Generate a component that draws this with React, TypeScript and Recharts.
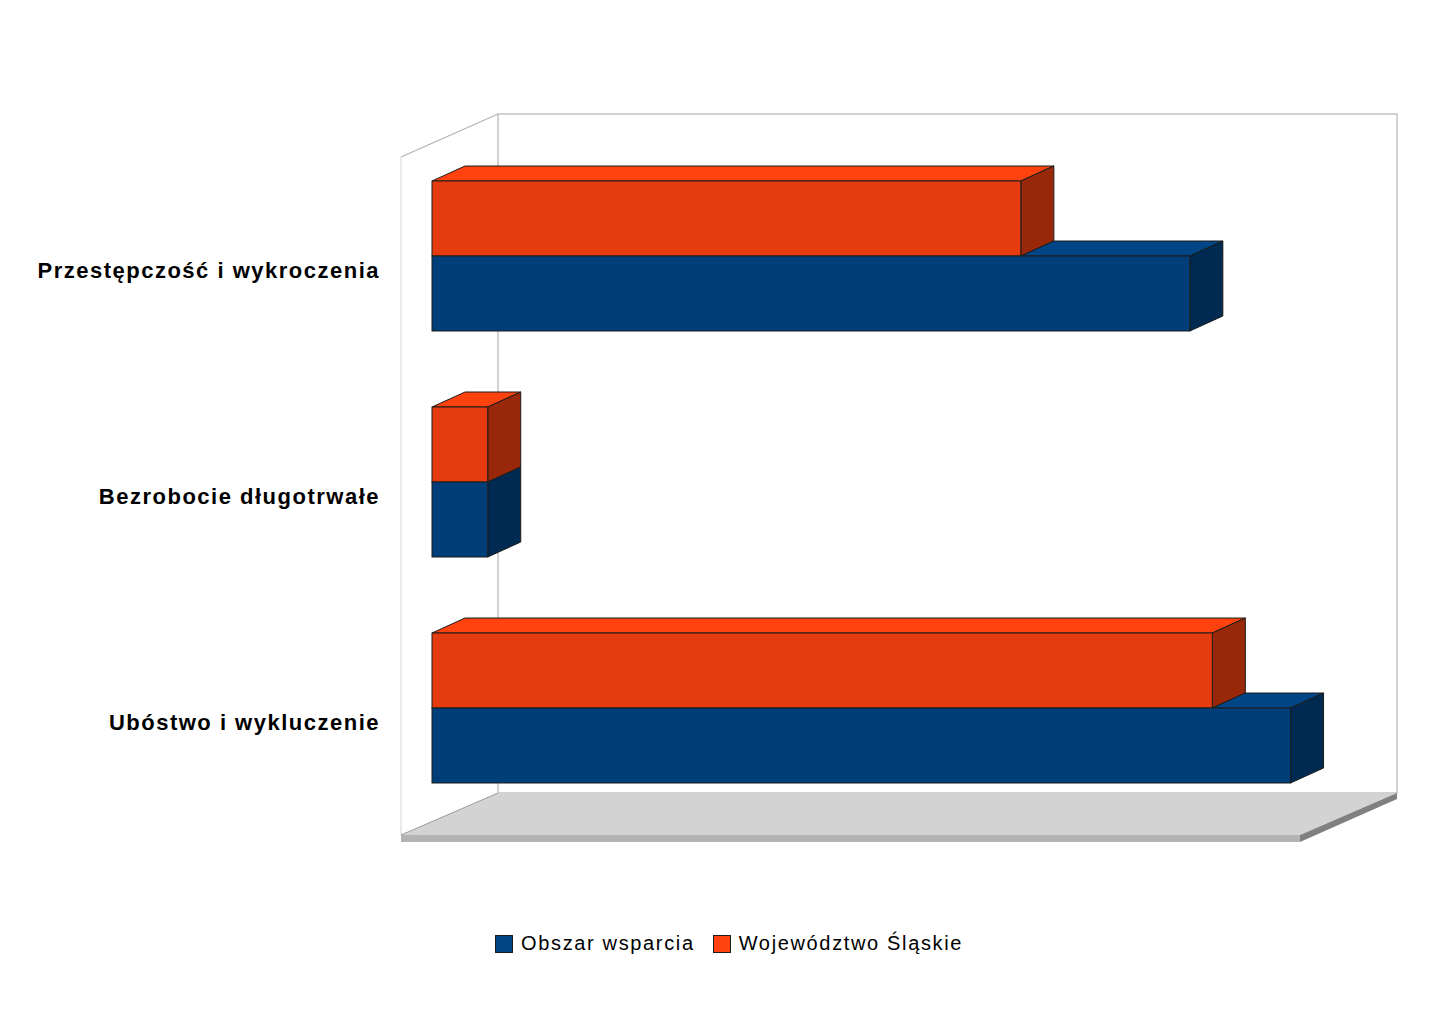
import React from 'react';
import { BarChart, Bar, XAxis, YAxis, Legend } from 'recharts';

const categories = ['Przestępczość i wykroczenia', 'Bezrobocie długotrwałe', 'Ubóstwo i wykluczenie'];
const obszarWsparcia = [84.3, 6.2, 95.5];
const wojewodztwoSlaskie = [65.5, 6.2, 86.8];
const seriesNames = ['Obszar wsparcia', 'Województwo Śląskie'];

const data = categories.map((name, i) => ({
  name,
  obszar: obszarWsparcia[i],
  slaskie: wojewodztwoSlaskie[i],
}));

const DX = 33;
const DY = 15;
const STROKE = '#1c1c1c';

const BLUE = { front: '#003E79', top: '#004586', side: '#002A52' };
const ORANGE = { front: '#E53B0F', top: '#FF420E', side: '#99280A' };

function boxPath(pts: number[][]) {
  return pts.map((p, i) => `${i ? 'L' : 'M'}${p[0]},${p[1]}`).join(' ') + ' Z';
}

function Box(props: any) {
  const { x, y, width, height, colors, topStart } = props;
  const w = Math.max(width, 0);
  const ts = topStart == null ? 0 : Math.min(topStart, w);
  return (
    <g>
      {ts < w && (
        <path
          d={boxPath([[x + ts, y], [x + ts + DX, y - DY], [x + w + DX, y - DY], [x + w, y]])}
          fill={colors.top}
          stroke={STROKE}
          strokeWidth={1}
          strokeLinejoin="round"
        />
      )}
      <path
        d={boxPath([[x + w, y], [x + w + DX, y - DY], [x + w + DX, y + height - DY], [x + w, y + height]])}
        fill={colors.side}
        stroke={STROKE}
        strokeWidth={1}
        strokeLinejoin="round"
      />
      <rect x={x} y={y} width={w} height={height} fill={colors.front} stroke={STROKE} strokeWidth={1} />
    </g>
  );
}

const OrangeShape = (props: any) => <Box {...props} colors={ORANGE} topStart={0} />;

const BlueShape = (props: any) => {
  const { width, payload } = props;
  const ratio = payload && payload.obszar ? payload.slaskie / payload.obszar : 0;
  return <Box {...props} colors={BLUE} topStart={width * ratio} />;
};

const YTick = (props: any) => {
  const { y, payload } = props;
  return (
    <text
      x={380}
      y={y + 22}
      textAnchor="end"
      fontFamily="'Liberation Sans', Arial, sans-serif"
      fontWeight="bold"
      fontSize={22}
      letterSpacing={1.5}
      fill="#000"
    >
      {payload.value}
    </text>
  );
};

const legendItems = [
  { name: seriesNames[0], color: BLUE.top },
  { name: seriesNames[1], color: ORANGE.top },
];

const LegendContent = () => (
  <div style={{ position: 'relative', height: 0 }}>
    <div
      style={{
        position: 'absolute',
        left: 495,
        top: 0,
        display: 'flex',
        alignItems: 'center',
        whiteSpace: 'nowrap',
        fontFamily: "'Liberation Sans', Arial, sans-serif",
        fontSize: 20,
        letterSpacing: 1.65,
        color: '#000',
      }}
    >
      {legendItems.map((it, i) => (
        <div key={i} style={{ display: 'flex', alignItems: 'center', marginRight: 18 }}>
          <div
            style={{
              width: 16,
              height: 16,
              background: it.color,
              border: '1px solid #1c1c1c',
              marginRight: 8,
            }}
          />
          <span>{it.name}</span>
        </div>
      ))}
    </div>
  </div>
);

const Background = () => (
  <svg width={1452} height={1028} style={{ position: 'absolute', left: 0, top: 0 }}>
    <rect x={498} y={114} width={899} height={679} fill="#ffffff" stroke="#b3b3b3" strokeWidth={1.2} />
    <line x1={401} y1={157} x2={498} y2={114} stroke="#b3b3b3" strokeWidth={1.2} />
    <line x1={401} y1={157} x2={401} y2={835} stroke="#dcdcdc" strokeWidth={1.2} />
    <polygon points="401,835 498,793 1397,793 1300,835" fill="#d3d3d3" stroke="none" />
    <line x1={401} y1={835} x2={498} y2={793} stroke="#9a9a9a" strokeWidth={1} />
    <rect x={401} y={835} width={899} height={7} fill="#b3b3b3" />
    <polygon points="1300,835 1397,793 1397,799 1300,842" fill="#808080" />
  </svg>
);

export default function App() {
  return (
    <div style={{ position: 'absolute', left: 0, top: 0, width: 1452, height: 1028, background: '#fff' }}>
      <Background />
      <div style={{ position: 'absolute', left: 0, top: 0 }}>
        <BarChart
          width={1452}
          height={1028}
          data={data}
          layout="vertical"
          margin={{ top: 143, right: 121, bottom: 207, left: 0 }}
          barSize={75}
          barGap={0}
        >
          <XAxis type="number" domain={[0, 100]} hide />
          <YAxis type="category" dataKey="name" width={432} axisLine={false} tickLine={false} tick={<YTick />} />
          <Legend
            content={<LegendContent />}
            wrapperStyle={{ position: 'absolute', top: 932, left: 0, bottom: 'auto', width: 1452, height: 0 }}
          />
          <Bar dataKey="slaskie" name={seriesNames[1]} fill={ORANGE.top} shape={<OrangeShape />} isAnimationActive={false} />
          <Bar dataKey="obszar" name={seriesNames[0]} fill={BLUE.top} shape={<BlueShape />} isAnimationActive={false} />
        </BarChart>
      </div>
    </div>
  );
}
